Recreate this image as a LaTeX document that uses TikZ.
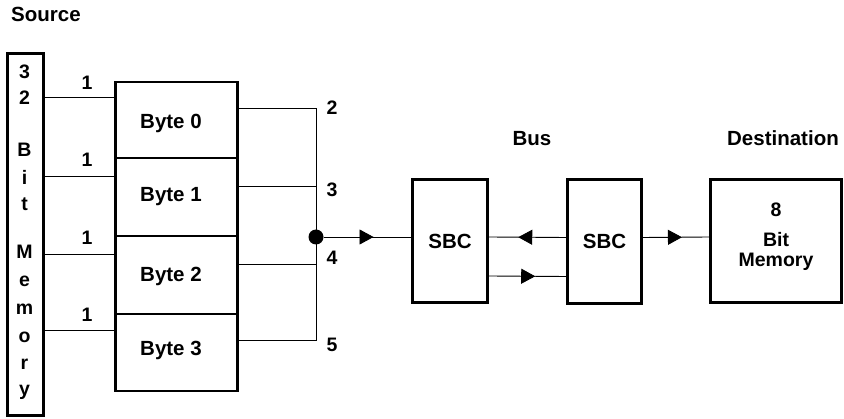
\documentclass[tikz,border=0pt]{standalone}
\usepackage{fontspec}
\setmainfont{Liberation Sans}
\usetikzlibrary{decorations.markings,arrows.meta}
\begin{document}
\begin{tikzpicture}[x=1pt,y=-1pt,
  box/.style={draw,line width=2.8pt,inner sep=0pt},
  wire/.style={line width=0.9pt},
  txt/.style={font=\bfseries\fontsize{20.5}{24}\selectfont,inner sep=0pt},
  num/.style={font=\bfseries\fontsize{19.5}{22}\selectfont,inner sep=0pt},
  midarrow/.style={postaction={decorate},decoration={markings,mark=at position #1 with {\arrow{Triangle[length=14pt,width=15pt]}}}}
]
\useasboundingbox (0,0) rectangle (844,419);
% boxes
\node[box,minimum width=36pt,minimum height=362pt] (mem) at (25.5,234.5) {};
\node[box,minimum width=122pt,minimum height=76pt] (b0) at (176.5,120) {};
\node[box,minimum width=122pt,minimum height=78pt] (b1) at (176.5,197) {};
\node[box,minimum width=122pt,minimum height=78pt] (b2) at (176.5,275) {};
\node[box,minimum width=122pt,minimum height=77pt] (b3) at (176.5,352.5) {};
\node[box,txt,minimum width=75pt,minimum height=123pt] (sbc1) at (450,241) {SBC};
\node[box,txt,minimum width=74pt,minimum height=124pt] (sbc2) at (604.5,241.5) {SBC};
\node[box,minimum width=131pt,minimum height=123pt] (dest) at (776,241) {};
\node[circle,fill,inner sep=0pt,minimum size=15pt] (j) at (316,237) {};
% labels
\node[txt,anchor=base west] (src) at (11,22) {Source};
\node[txt,anchor=base] (bus) at (532,146) {Bus};
\node[txt,anchor=base] (dst) at (783,146) {Destination};
\node[txt,anchor=base west] (t0) at (140,129) {Byte 0};
\node[txt,anchor=base west] (t1) at (140,202) {Byte 1};
\node[txt,anchor=base west] (t2) at (140,282) {Byte 2};
\node[txt,anchor=base west] (t3) at (140,356) {Byte 3};
\node[num,anchor=base] (n10) at (87,90) {1};
\node[num,anchor=base] (n11) at (87,167) {1};
\node[num,anchor=base] (n12) at (87,245) {1};
\node[num,anchor=base] (n13) at (87,322) {1};
\node[num,anchor=base] (n2) at (332,115) {2};
\node[num,anchor=base] (n3) at (332,197) {3};
\node[num,anchor=base] (n4) at (332,265) {4};
\node[num,anchor=base] (n5) at (332,352) {5};
\node[num,anchor=base] (c1) at (24.5,79) {3};
\node[num,anchor=base] (c2) at (24.5,105) {2};
\node[num,anchor=base] (c3) at (24.5,157) {B};
\node[num,anchor=base] (c4) at (24.5,185) {i};
\node[num,anchor=base] (c5) at (24.5,211) {t};
\node[num,anchor=base] (c6) at (24.5,259) {M};
\node[num,anchor=base] (c7) at (24.5,287) {e};
\node[num,anchor=base] (c8) at (24.5,315) {m};
\node[num,anchor=base] (c9) at (24.5,343) {o};
\node[num,anchor=base] (c10) at (24.5,370) {r};
\node[num,anchor=base] (c11) at (24.5,396) {y};
\node[num,anchor=base] (d1) at (776,217) {8};
\node[num,anchor=base] (d2) at (776,247) {Bit};
\node[num,anchor=base] (d3) at (776,267) {Memory};
% input wires
\draw[wire] ([yshift=-17pt]b0.north west) coordinate (i0) -- (i0 -| mem.east);
\draw[wire] ([yshift=-20pt]b1.north west) coordinate (i1) -- (i1 -| mem.east);
\draw[wire] ([yshift=-20pt]b2.north west) coordinate (i2) -- (i2 -| mem.east);
\draw[wire] ([yshift=-18pt]b3.north west) coordinate (i3) -- (i3 -| mem.east);
% output wires
\draw[wire] ([yshift=-28pt]b0.north east) -| (j.center);
\draw[wire] ([yshift=-30pt]b1.north east) -| (j.center);
\draw[wire] ([yshift=-30pt]b2.north east) -| (j.center);
\draw[wire] ([yshift=-28pt]b3.north east) -| (j.center);
% bus arrows
\draw[wire,midarrow=0.57] (j) -- (j -| sbc1.west);
\draw[wire,midarrow=0.62] ([yshift=4pt]sbc2.west) -- ([yshift=4pt]sbc1.east);
\draw[wire,midarrow=0.6] ([yshift=-35pt]sbc1.east) -- ([yshift=-35pt]sbc2.west);
\draw[wire,midarrow=0.59] ([yshift=4pt]sbc2.east) -- ([yshift=4pt]dest.west);
\end{tikzpicture}
\end{document}
